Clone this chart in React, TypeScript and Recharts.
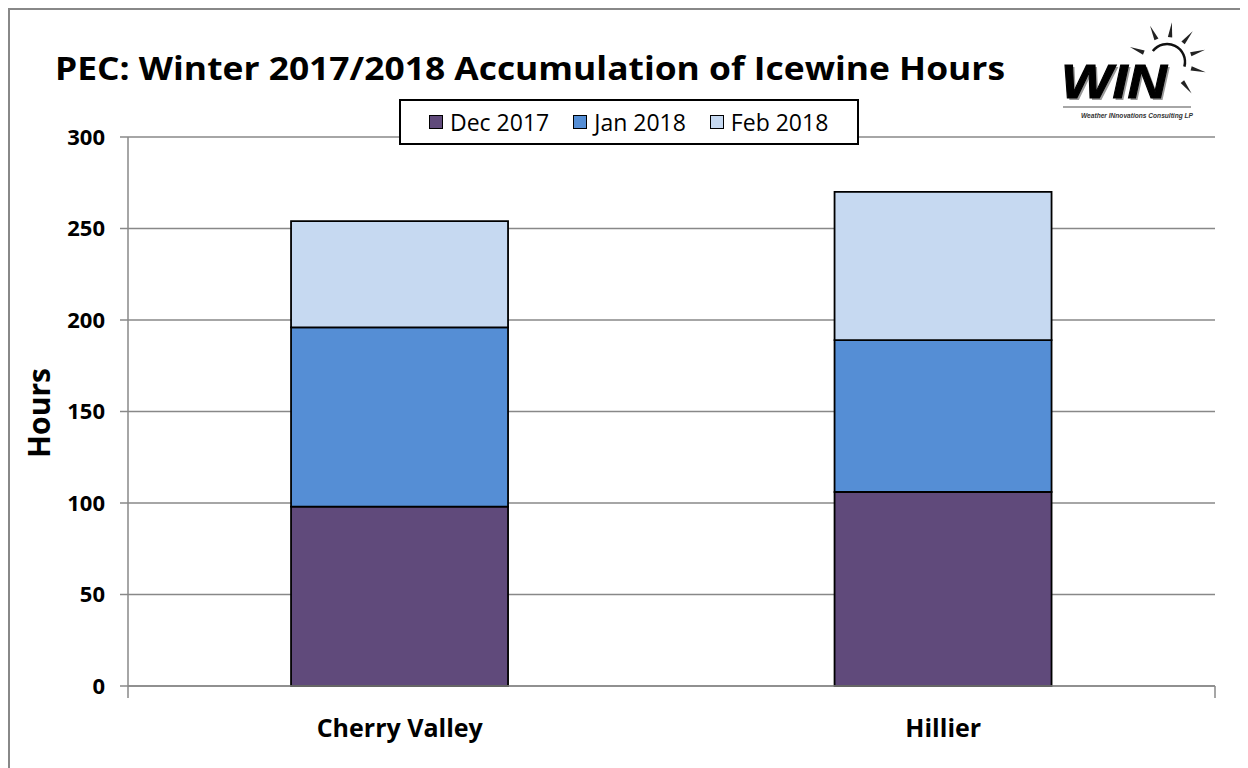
import React from 'react';
import { BarChart, Bar, XAxis, YAxis, CartesianGrid, Legend } from 'recharts';

const sites = ['Cherry Valley', 'Hillier'];
const decHours = [98, 106];
const janHours = [98, 83];
const febHours = [58, 81];
const seriesNames = ['Dec 2017', 'Jan 2018', 'Feb 2018'];
const seriesColors = ['#604A7B', '#558ED5', '#C6D9F1'];
const yTicks = [0, 50, 100, 150, 200, 250, 300];
const edgeTicks = [0, 1, 2];

const FONT = '"Open Sans", sans-serif';

const chartData = sites.map((site, i) => ({
  site,
  dec: decHours[i],
  jan: janHours[i],
  feb: febHours[i],
}));

const NoLabel = () => <g />;

const LegendBox = ({ payload }: any) => {
  // keep the series order, not the alphabetical one
  const items = [...(payload || [])].sort(
    (a: any, b: any) => seriesNames.indexOf(a.value) - seriesNames.indexOf(b.value)
  );
  return (
    <div style={{
      boxSizing: 'border-box',
      width: 460,
      height: 46,
      border: '2px solid #000',
      background: '#fff',
      display: 'flex',
      alignItems: 'center',
      paddingLeft: 28,
      fontFamily: FONT,
      fontSize: 23,
      color: '#000',
    }}>
      {items.map((p: any, i: number) => (
        <div key={i} style={{ display: 'flex', alignItems: 'center', marginRight: 24 }}>
          <span style={{
            display: 'inline-block',
            width: 12,
            height: 12,
            background: p.color,
            border: '1.5px solid #000',
            marginRight: 7,
          }} />
          <span style={{ lineHeight: 1 }}>{p.value}</span>
        </div>
      ))}
    </div>
  );
};

// logo rays, angle in degrees
const rayAngles = [-158, -115, -83, -50, -18, 15, 52];

const Logo = () => {
  const cx = 1157;
  const cy = 52;
  const r = 18;
  const a0 = (-142 * Math.PI) / 180;
  const a1 = (15 * Math.PI) / 180;
  const arc = `M ${cx + r * Math.cos(a0)} ${cy + r * Math.sin(a0)} A ${r} ${r} 0 0 1 ${cx + r * Math.cos(a1)} ${cy + r * Math.sin(a1)}`;
  return (
    <g>
      <path d={arc} fill="none" stroke="#111" strokeWidth={2.5} />
      {rayAngles.map((deg) => {
        const a = (deg * Math.PI) / 180;
        const n = a + Math.PI / 2;
        const r1 = 25;
        const r2 = 40;
        const w = 2.2;
        const pts = [
          [cx + r1 * Math.cos(a) + w * Math.cos(n), cy + r1 * Math.sin(a) + w * Math.sin(n)],
          [cx + r1 * Math.cos(a) - w * Math.cos(n), cy + r1 * Math.sin(a) - w * Math.sin(n)],
          [cx + r2 * Math.cos(a), cy + r2 * Math.sin(a)],
        ];
        return <polygon key={deg} points={pts.map((p) => p.join(',')).join(' ')} fill="#222" />;
      })}
      <text x={1053} y={90} fontFamily='"Liberation Sans", sans-serif' fontStyle="italic" fontWeight={700}
        fontSize={48} fill="#999" textLength={106} lengthAdjust="spacingAndGlyphs">WIN</text>
      <text x={1051} y={88} fontFamily='"Liberation Sans", sans-serif' fontStyle="italic" fontWeight={700}
        fontSize={48} fill="#000" stroke="#000" strokeWidth={1} textLength={106} lengthAdjust="spacingAndGlyphs">WIN</text>
      <line x1={1053} y1={97} x2={1181} y2={97} stroke="#888" strokeWidth={1.5} />
      <text x={1071} y={108} fontFamily='"Liberation Sans", sans-serif' fontStyle="italic" fontWeight={700}
        fontSize={8} fill="#333" textLength={112} lengthAdjust="spacingAndGlyphs">Weather INnovations Consulting LP</text>
    </g>
  );
};

export default function App() {
  return (
    <div style={{
      position: 'relative',
      boxSizing: 'border-box',
      width: 1240,
      height: 760,
      borderLeft: '2px solid #888',
      borderTop: '2px solid #888',
      background: '#fff',
      fontFamily: FONT,
    }}>
      <svg width={1238} height={758} style={{ position: 'absolute', left: 0, top: 0, pointerEvents: 'none' }}>
        <text x={45} y={70} fontFamily={FONT} fontWeight={700} fontSize={33} fill="#000"
          textLength={950} lengthAdjust="spacingAndGlyphs">
          PEC: Winter 2017/2018 Accumulation of Icewine Hours
        </text>
        <text transform="translate(40,403) rotate(-90)" textAnchor="middle" fontFamily={FONT}
          fontWeight={700} fontSize={31} fill="#000" textLength={90} lengthAdjust="spacingAndGlyphs">
          Hours
        </text>
        <Logo />
      </svg>
      <div style={{ position: 'absolute', left: 0, top: 0 }}>
        <BarChart
          width={1238}
          height={758}
          data={chartData}
          barCategoryGap="30%"
          margin={{ top: 127, right: 33, bottom: 20, left: 58 }}
        >
          <CartesianGrid vertical={false} stroke="#888" strokeWidth={1.5} xAxisId="axisB" />
          <XAxis
            xAxisId="axisB"
            dataKey="site"
            axisLine={false}
            tickLine={false}
            tickSize={0}
            tickMargin={21}
            height={50}
            tick={{ fill: '#000', fontSize: 25, fontWeight: 700, fontFamily: FONT }}
          />
          <XAxis
            xAxisId="axisA"
            type="number"
            domain={[0, 2]}
            ticks={edgeTicks}
            tick={NoLabel}
            tickSize={12}
            height={12}
            axisLine={{ stroke: '#888', strokeWidth: 1.5 }}
            tickLine={{ stroke: '#888', strokeWidth: 1.5 }}
          />
          <YAxis
            domain={[0, 300]}
            ticks={yTicks}
            width={60}
            tickSize={8}
            tickMargin={15}
            axisLine={{ stroke: '#888', strokeWidth: 1.5 }}
            tickLine={{ stroke: '#888', strokeWidth: 1.5 }}
            tick={{ fill: '#000', fontSize: 22, fontWeight: 700, fontFamily: FONT }}
          />
          <Legend
            layout="horizontal"
            verticalAlign="middle"
            align="center"
            content={<LegendBox />}
            wrapperStyle={{ left: 389, top: 89, width: 460, height: 46 }}
          />
          <Bar xAxisId="axisB" dataKey="dec" name={seriesNames[0]} stackId="a" fill={seriesColors[0]}
            stroke="#000" strokeWidth={1.8} isAnimationActive={false} />
          <Bar xAxisId="axisB" dataKey="jan" name={seriesNames[1]} stackId="a" fill={seriesColors[1]}
            stroke="#000" strokeWidth={1.8} isAnimationActive={false} />
          <Bar xAxisId="axisB" dataKey="feb" name={seriesNames[2]} stackId="a" fill={seriesColors[2]}
            stroke="#000" strokeWidth={1.8} isAnimationActive={false} />
        </BarChart>
      </div>
    </div>
  );
}
